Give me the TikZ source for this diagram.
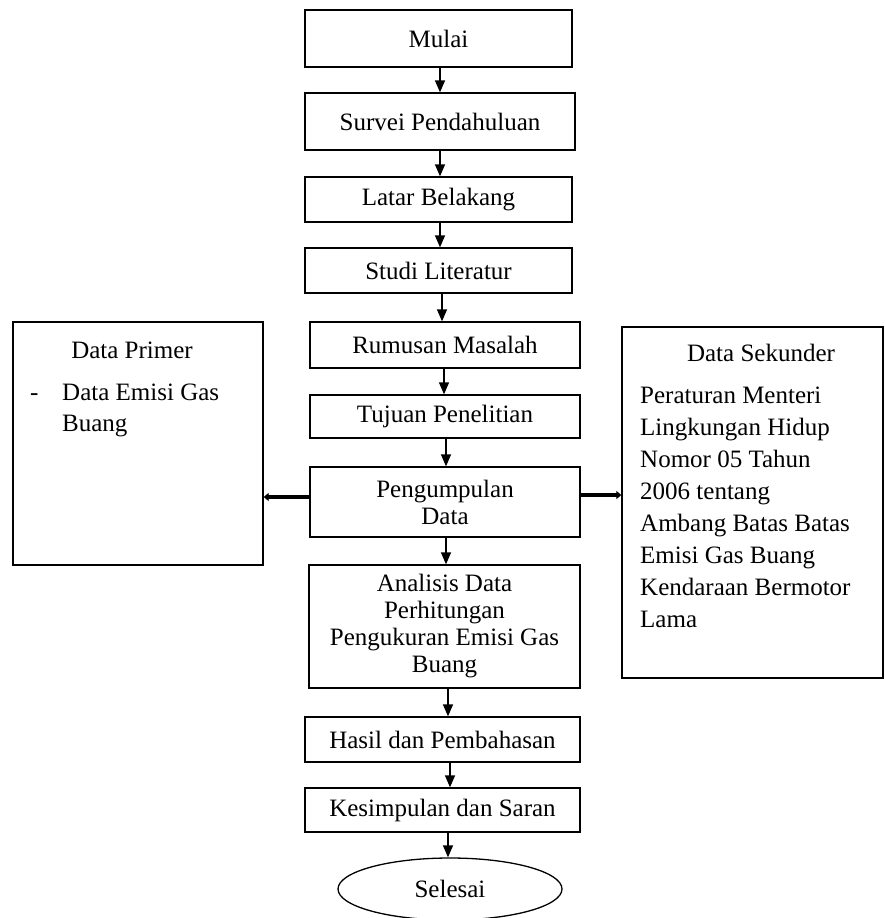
\documentclass[tikz,border=0pt]{standalone}
\usepackage{fontspec}
\setmainfont{Liberation Serif}
\usetikzlibrary{arrows.meta,shapes.geometric}
\begin{document}
\begin{tikzpicture}[x=1pt,y=-1pt,
  box/.style={draw,line width=1.3pt,inner sep=0pt,align=center,
    font=\fontsize{25}{27}\selectfont},
  txt/.style={inner sep=0pt,font=\fontsize{25}{32}\selectfont},
  flow/.style={line width=1.3pt,-{Triangle[length=12pt,width=10pt]}},
  side/.style={line width=3.8pt,-{Triangle[length=5pt,width=8pt]}}]
\useasboundingbox (0,0) rectangle (884,918);
\node[box,minimum width=267pt,minimum height=57pt] (mulai) at (438.5,38.5) {Mulai};
\node[box,minimum width=270pt,minimum height=57pt] (survei) at (440,121.5) {Survei Pendahuluan};
\node[box,minimum width=267pt,minimum height=45pt] (latar) at (438.5,199.5) {Latar Belakang};
\node[box,minimum width=267pt,minimum height=45pt] (studi) at (438.5,270.5) {Studi Literatur};
\node[box,minimum width=270pt,minimum height=46pt] (rumusan) at (445,345) {Rumusan Masalah};
\node[box,minimum width=270pt,minimum height=43pt] (tujuan) at (445,416.5) {Tujuan Penelitian};
\node[box,minimum width=270pt,minimum height=70pt] (kumpul) at (445,502) {Pengumpulan\\Data};
\node[box,minimum width=271pt,minimum height=123pt] (analisis) at (444.5,626.5) {Analisis Data\\Perhitungan\\Pengukuran Emisi Gas\\Buang};
\node[box,minimum width=275pt,minimum height=45pt] (hasil) at (442.5,739.5) {Hasil dan Pembahasan};
\node[box,minimum width=275pt,minimum height=44pt] (simpul) at (442.5,810) {Kesimpulan dan Saran};
\node[box,ellipse,minimum width=224pt,minimum height=62pt] (selesai) at (450,889) {Selesai};
\node[draw,line width=1.3pt,minimum width=250pt,minimum height=243pt,inner sep=0pt] (primer) at (138,443.5) {};
\node[draw,line width=1.3pt,minimum width=261pt,minimum height=351pt,inner sep=0pt] (sekunder) at (752.5,502.5) {};
\node[txt,anchor=base] (primerT) at (132,358) {Data Primer};
\node[txt,anchor=base west] (dash) at (30,400) {-};
\node[txt,anchor=base west] (primer1) at (62,400) {Data Emisi Gas};
\node[txt,anchor=base west] (primer2) at (62,431) {Buang};
\node[txt,anchor=base] (sekT) at (761,361) {Data Sekunder};
\node[txt,anchor=north west,align=left] (sekText) at (640,387) {Peraturan Menteri\\Lingkungan Hidup\\Nomor 05 Tahun\\2006 tentang\\Ambang Batas Batas\\Emisi Gas Buang\\Kendaraan Bermotor\\Lama};
\draw[flow] (mulai.south -| 440,0) -- (survei.north -| 440,0);
\draw[flow] (survei.south -| 440,0) -- (latar.north -| 440,0);
\draw[flow] (latar.south -| 440,0) -- (studi.north -| 440,0);
\draw[flow] (studi.south -| 442,0) -- (rumusan.north -| 442,0);
\draw[flow] (rumusan.south -| 444,0) -- (tujuan.north -| 444,0);
\draw[flow] (tujuan.south -| 446,0) -- (kumpul.north -| 446,0);
\draw[flow] (kumpul.south -| 446,0) -- (analisis.north -| 446,0);
\draw[flow] (analisis.south -| 448,0) -- (hasil.north -| 448,0);
\draw[flow] (hasil.south -| 450,0) -- (simpul.north -| 450,0);
\draw[flow] (simpul.south -| 448,0) -- (selesai.north -| 448,0);
\draw[side] (kumpul.west |- 0,497) -- (primer.east |- 0,497);
\draw[side] (kumpul.east |- 0,495) -- (sekunder.west |- 0,495);
\end{tikzpicture}
\end{document}
